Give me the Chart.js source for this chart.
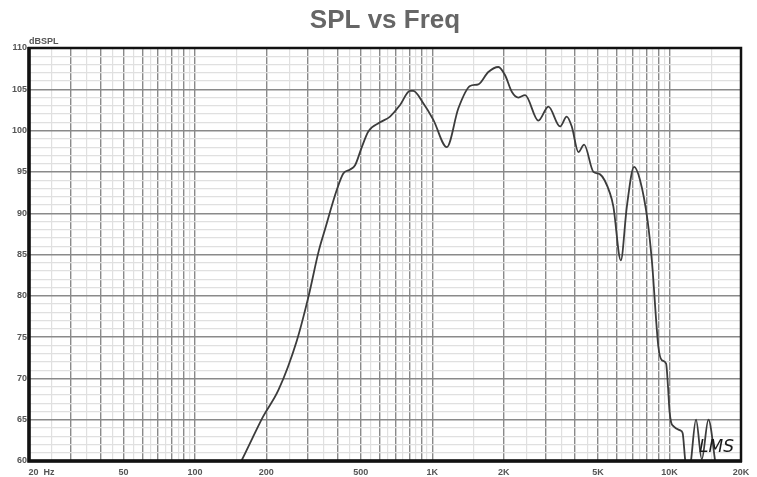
<!DOCTYPE html>
<html>
<head>
<meta charset="utf-8">
<script src="https://cdn.jsdelivr.net/npm/chart.js@4.4.1/dist/chart.umd.min.js"></script>
<style>
  body { margin: 0; background: #fff; }
  #chart { display: block; }
</style>
</head>
<body>
<canvas id="chart" width="757" height="477"></canvas>
<script>
// frecuencias (Hz) y nivel (dBSPL)
const freqHz = [157, 175, 194, 225, 269, 301, 333, 353, 396, 422, 451, 473, 505, 538, 603, 664, 732, 806, 832, 917,
    1011, 1152, 1289, 1443, 1564, 1724, 1900, 2028, 2164, 2308, 2462, 2800, 3086, 3456, 3688, 3872, 4130, 4366,
    4776, 5096, 5612, 5798, 6232, 6608, 7088, 7512, 8072, 8420, 8974, 9280, 9672, 9850, 10000, 10150, 10400,
    11100, 11350, 11650, 11900, 12150, 12926, 13672, 14578, 15560, 15800];
const splDb = [60, 62.8, 65.4, 68.6, 74.6, 79.9, 85.5, 88.0, 92.8, 94.8, 95.3, 95.8, 98.0, 99.9, 101.0, 101.7, 103.1, 104.8, 104.8, 103.3,
    101.3, 98.0, 102.7, 105.4, 105.6, 107.1, 107.7, 106.7, 104.7, 104.0, 104.3, 101.2, 102.9, 100.5, 101.7, 100.5, 97.4, 98.3,
    95.0, 94.7, 92.4, 90.8, 84.3, 90.8, 95.6, 94.0, 89.2, 84.3, 73.8, 72.2, 71.8, 69.0, 66.0, 64.7, 64.2,
    63.7, 63.4, 60.0, 58.8, 59.0, 65.0, 60.2, 65.0, 60.0, 58.5];

// lineas verticales de la grilla: enteros oscuros, medios claros
const freqTicks = [];
[10, 100, 1000, 10000].forEach(d => {
    for (let m = 1; m <= 9.5; m += 0.5) {
        const v = m * d;
        if (v >= 20 && v <= 20000) freqTicks.push(v);
    }
});
const freqLabelValues = [20, 50, 100, 200, 500, 1000, 2000, 5000, 10000, 20000];
const freqLabelTexts = ['          20  Hz', '50', '100', '200', '500', '1K', '2K', '5K', '10K', '20K'];

const isDecadeStep = v => {
    const d = Math.pow(10, Math.floor(Math.log10(v) + 1e-9));
    return Math.abs(v / d - Math.round(v / d)) < 1e-6;
};

//marco negro + logo
const frame = {
    id: 'frame',
    afterDatasetsDraw(chart) {
        const { ctx, chartArea: { top, bottom, left, right } } = chart;
        ctx.save();
        ctx.strokeStyle = '#111';
        ctx.lineWidth = 2.5;
        ctx.strokeRect(left, top, right - left, bottom - top);
        ctx.lineWidth = 3.5;
        ctx.beginPath();
        ctx.moveTo(left, top - 1);
        ctx.lineTo(left, bottom);
        ctx.lineTo(right + 1, bottom);
        ctx.stroke();
        ctx.fillStyle = '#1a1a1a';
        ctx.font = 'italic 17px "DejaVu Sans"';
        ctx.textBaseline = 'alphabetic';
        ctx.fillText('LMS', 699, 452);
        ctx.restore();
    }
};

const data = {
    datasets: [{
        data: freqHz.map((f, i) => ({ x: f, y: splDb[i] })),
        borderColor: '#3c3c3c',
        borderWidth: 1.8,
        pointRadius: 0,
        cubicInterpolationMode: 'monotone',
        fill: false
    }]
};

const config = {
    type: 'line',
    data,
    options: {
        responsive: false,
        animation: false,
        layout: {
            padding: { top: 0, right: 16, bottom: 0, left: 0 }
        },
        scales: {
            x: {
                type: 'logarithmic',
                min: 20,
                max: 20000,
                afterBuildTicks: scale => {
                    scale.ticks = freqTicks.map(v => ({ value: v }));
                },
                afterFit: scale => {
                    scale.height = 16;
                    // que la etiqueta "20 Hz" no empuje el area del grafico
                    scale.paddingLeft = 0;
                    scale.paddingRight = 0;
                },
                border: { display: false },
                grid: {
                    drawTicks: false,
                    color: c => isDecadeStep(c.tick.value) ? '#8a8a8a' : '#e0e0e0',
                    lineWidth: c => isDecadeStep(c.tick.value) ? 1.4 : 1.2
                },
                ticks: {
                    autoSkip: false,
                    maxRotation: 0,
                    padding: 6,
                    color: '#555',
                    font: { family: 'Liberation Sans', size: 9, weight: 'bold' },
                    callback: value => {
                        const i = freqLabelValues.indexOf(value);
                        return i >= 0 ? freqLabelTexts[i] : '';
                    }
                }
            },
            y: {
                min: 60,
                max: 110,
                afterFit: scale => { scale.width = 29; },
                border: { display: false },
                grid: {
                    drawTicks: false,
                    color: c => c.tick.value % 5 === 0 ? '#8a8a8a' : '#e0e0e0',
                    lineWidth: c => c.tick.value % 5 === 0 ? 1.4 : 1.2
                },
                ticks: {
                    stepSize: 1,
                    autoSkip: false,
                    padding: 2,
                    color: '#555',
                    font: { family: 'Liberation Sans', size: 9, weight: 'bold' },
                    callback: value => value % 5 === 0 ? value : ''
                }
            }
        },
        plugins: {
            legend: { display: false },
            tooltip: { enabled: false },
            title: {
                display: true,
                text: 'SPL vs Freq',
                fullSize: false,
                color: '#666',
                font: { family: 'Liberation Sans', size: 26, weight: 'bold' },
                padding: { top: 5, bottom: 0 }
            },
            subtitle: {
                display: true,
                text: 'dBSPL',
                align: 'start',
                fullSize: false,
                color: '#555',
                font: { family: 'Liberation Sans', size: 9, weight: 'bold' },
                padding: { top: 0, bottom: 1 }
            }
        }
    },
    plugins: [frame]
};

var chart = document.getElementById('chart');
var myChart = new Chart(chart, config);
</script>
</body>
</html>
